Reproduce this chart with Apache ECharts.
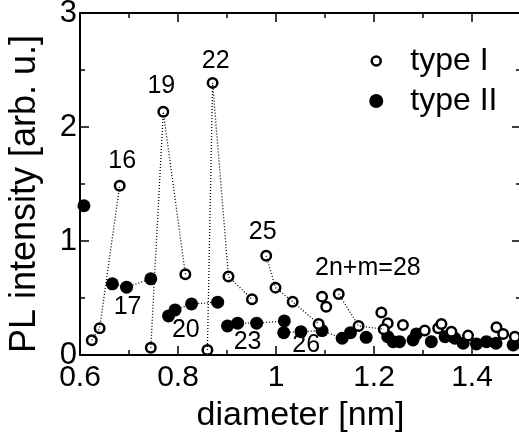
<!DOCTYPE html>
<html>
<head>
<meta charset="utf-8">
<script src="https://cdn.jsdelivr.net/npm/echarts@6/dist/echarts.min.js"></script>
<style>
html,body{margin:0;padding:0;background:#fff;}
#chart{width:519px;height:436px;}
</style>
</head>
<body>
<div id="chart"></div>
<script>
// ---- data (diameter [nm], PL intensity [arb. u.]) ----
var typeIDiameter = [0.624, 0.640, 0.681, 0.7445, 0.770, 0.815, 0.8706, 0.860, 0.903, 0.951,
  0.980, 0.999, 1.034, 1.094, 1.1025, 1.128, 1.087, 1.1685, 1.215, 1.228,
  1.220, 1.259, 1.3035, 1.331, 1.3376, 1.358, 1.392, 1.450, 1.4636, 1.4875];
var typeIIntensity = [0.13, 0.235, 1.485, 0.064, 2.133, 0.709, 2.387, 0.044, 0.688, 0.489,
  0.870, 0.591, 0.468, 0.512, 0.424, 0.536, 0.272, 0.255, 0.372, 0.278,
  0.226, 0.264, 0.214, 0.234, 0.272, 0.205, 0.170, 0.243, 0.185, 0.161];

var typeIIDiameter = [0.608, 0.666, 0.695, 0.7445, 0.7806, 0.794, 0.8276, 0.881, 0.901, 0.9217,
  0.9605, 1.017, 1.0158, 1.051, 1.094, 1.135, 1.152, 1.184, 1.228, 1.239,
  1.252, 1.2796, 1.2865, 1.317, 1.345, 1.365, 1.382, 1.409, 1.4295, 1.449, 1.484];
var typeIIIntensity = [1.309, 0.624, 0.595, 0.668, 0.343, 0.395, 0.448, 0.463, 0.255, 0.279,
  0.279, 0.299, 0.196, 0.205, 0.214, 0.147, 0.196, 0.155, 0.161, 0.117,
  0.117, 0.132, 0.185, 0.117, 0.160, 0.147, 0.103, 0.097, 0.117, 0.103, 0.088];

// families (2n+m) connected by dotted lines: indices into the arrays above
var typeIFamilies = [[0, 1, 2], [3, 4, 5], [7, 6, 8, 9], [10, 11, 12, 16], [15, 17, 20]];
var typeIIFamilies = [[1, 2, 3], [4, 5, 6, 7], [8, 9, 10, 11], [12, 13, 14, 15]];

// annotation labels
var labelTexts = ['16', '19', '22', '25', '2n+m=28', '17', '20', '23', '26'];
var labelX = [0.686, 0.766, 0.877, 0.973, 1.1875, 0.697, 0.816, 0.942, 1.0615];
var labelY = [1.705, 2.36, 2.577, 1.075, 0.762, 0.419, 0.214, 0.117, 0.088];

// axes
var xMin = 0.6, xMax = 1.5, xMajor = 0.2, xMinor = 0.1;
var yMin = 0, yMax = 3, yMajor = 1;

// ---- chart ----
var FONT = '"Liberation Sans", Arial, Helvetica, sans-serif';
function pairs(xs, ys) { return xs.map(function (x, i) { return [x, ys[i]]; }); }
var typeIData = pairs(typeIDiameter, typeIIntensity);
var typeIIData = pairs(typeIIDiameter, typeIIIntensity);

var lineStyle = { color: '#000', width: 1.3, type: [1, 2] };
var series = [];
series.push({
  name: 'type II', type: 'scatter', data: typeIIData, symbol: 'circle', symbolSize: 13,
  itemStyle: { color: '#000', opacity: 1 }, z: 2
});
series.push({
  name: 'type I', type: 'scatter', data: typeIData, symbol: 'circle', symbolSize: 9.5,
  itemStyle: { color: '#fff', borderColor: '#000', borderWidth: 2.5, opacity: 1 }, z: 3
});
typeIFamilies.forEach(function (f) {
  series.push({ type: 'line', data: f.map(function (i) { return typeIData[i]; }), symbol: 'none',
    lineStyle: lineStyle, z: 4, silent: true });
});
typeIIFamilies.forEach(function (f) {
  series.push({ type: 'line', data: f.map(function (i) { return typeIIData[i]; }), symbol: 'none',
    lineStyle: lineStyle, z: 4, silent: true });
});
series.push({
  type: 'scatter', symbolSize: 0, z: 5, silent: true, itemStyle: { opacity: 1 },
  data: labelTexts.map(function (t, i) { return { name: t, value: [labelX[i], labelY[i]] }; }),
  label: { show: true, position: 'inside', formatter: '{b}', color: '#000', opacity: 1, fontSize: 25, fontFamily: FONT }
});

function xAx(pos, interval, len, showLine, labels) {
  return {
    type: 'value', position: pos, min: xMin, max: xMax, interval: interval,
    axisLine: { show: showLine, onZero: false, lineStyle: { color: '#000', width: 2 } },
    axisTick: { show: true, inside: true, length: len, lineStyle: { color: '#000', width: 1.5 } },
    axisLabel: labels ? { show: true, color: '#000', fontSize: 30, fontFamily: FONT, margin: 8, showMaxLabel: false } : { show: false },
    splitLine: { show: false }
  };
}
var xAxes = [xAx('bottom', xMajor, 9, true, true), xAx('bottom', xMinor, 5, false, false),
  xAx('top', xMajor, 9, true, false), xAx('top', xMinor, 5, false, false)];
xAxes[0].name = 'diameter [nm]';
xAxes[0].nameLocation = 'middle';
xAxes[0].nameGap = 44;
xAxes[0].nameTextStyle = { color: '#000', fontSize: 34, fontFamily: FONT };

function yAx(pos, labels) {
  return {
    type: 'value', position: pos, min: yMin, max: yMax, interval: yMajor,
    axisLine: { show: true, onZero: false, lineStyle: { color: '#000', width: 2 } },
    axisTick: { show: true, inside: true, length: 9, lineStyle: { color: '#000', width: 1.5 } },
    minorTick: { show: true, splitNumber: 2, length: 5, lineStyle: { color: '#000', width: 1.5 } },
    axisLabel: labels ? { show: true, color: '#000', fontSize: 31, fontFamily: FONT, margin: 3 } : { show: false },
    splitLine: { show: false }
  };
}
var yAxes = [yAx('left', true), yAx('right', false)];
yAxes[0].name = 'PL intensity [arb. u.]';
yAxes[0].nameLocation = 'middle';
yAxes[0].nameGap = 37;
yAxes[0].nameTextStyle = { color: '#000', fontSize: 36, fontFamily: FONT, padding: [0, 20, 0, 0] };

var chart = echarts.init(document.getElementById('chart'), null, { renderer: 'canvas' });
chart.setOption({
  animation: false,
  backgroundColor: '#fff',
  grid: { left: 80, right: -2, top: 13, bottom: 81, containLabel: false, outerBoundsMode: 'none' },
  xAxis: xAxes,
  yAxis: yAxes,
  legend: {
    orient: 'vertical', left: 368, top: 45, padding: 0, itemWidth: 14, itemHeight: 14, itemGap: 8,
    textStyle: { color: '#000', fontSize: 32, fontFamily: FONT, padding: [0, 0, 0, 22] },
    data: [
      { name: 'type I', icon: 'path://M0,0M14,14M11.5,7A4.5,4.5,0,1,1,2.5,7A4.5,4.5,0,1,1,11.5,7Z',
        itemStyle: { color: '#fff', borderColor: '#000', borderWidth: 2.5, opacity: 1 } },
      { name: 'type II', icon: 'circle', itemStyle: { color: '#000', opacity: 1 } }
    ]
  },
  series: series
});
</script>
</body>
</html>
